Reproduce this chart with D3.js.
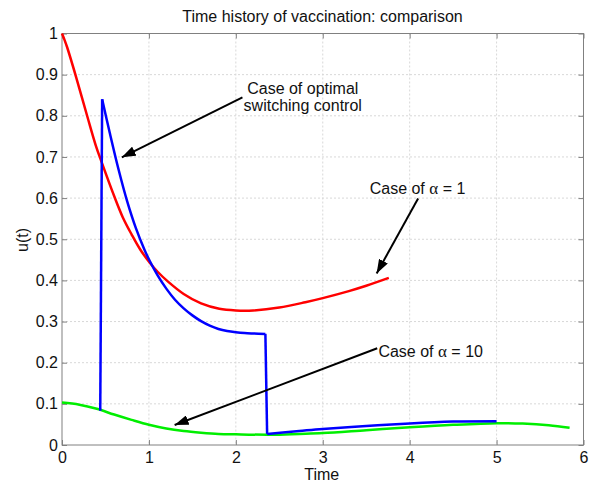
<!DOCTYPE html>
<html>
<head>
<meta charset="utf-8">
<script src="https://cdn.jsdelivr.net/npm/d3@7"></script>
<style>
  html, body { margin: 0; padding: 0; background: #fff; }
  svg { display: block; }
  text { font-family: "Liberation Sans", Arial, sans-serif; font-size: 16px; fill: #111; }
</style>
</head>
<body>
<svg id="chart" width="594" height="482"></svg>
<script>
// Vaccination time histories u(t)
const redTime  = [0, 0.03, 0.06, 0.164, 0.293, 0.39, 0.455, 0.6, 0.7, 0.8, 0.9, 1.01, 1.1, 1.22, 1.4, 1.6, 1.81, 2.0, 2.2, 2.5, 2.8, 3.0, 3.3, 3.5, 3.76];
const redValue = [1.0, 0.984, 0.966, 0.893, 0.797, 0.727, 0.688, 0.605, 0.553, 0.512, 0.475, 0.443, 0.421, 0.397, 0.367, 0.344, 0.331, 0.327, 0.327, 0.334, 0.347, 0.357, 0.374, 0.387, 0.406];

// optimal switching control: jump up, decay, drop, tail
const blueUpTime    = [0.44, 0.462];
const blueUpValue   = [0.083, 0.84];
const blueDecayTime  = [0.462, 0.55, 0.65, 0.75, 0.85, 0.95, 1.01, 1.1, 1.2, 1.3, 1.4, 1.5, 1.6, 1.7, 1.8, 1.9, 2.0, 2.1, 2.2, 2.34];
const blueDecayValue = [0.84, 0.758, 0.67, 0.592, 0.527, 0.474, 0.447, 0.412, 0.38, 0.353, 0.332, 0.315, 0.301, 0.29, 0.282, 0.277, 0.274, 0.272, 0.271, 0.27];
const blueDropTime   = [2.34, 2.36];
const blueDropValue  = [0.27, 0.027];
const blueTailTime   = [2.36, 2.73, 3.0, 3.5, 4.0, 4.5, 5.0];
const blueTailValue  = [0.027, 0.034, 0.039, 0.046, 0.0525, 0.0570, 0.058];

const greenTime  = [0, 0.2, 0.4, 0.6, 0.8, 1.0, 1.2, 1.4, 1.6, 1.8, 2.0, 2.4, 2.73, 3.0, 3.5, 4.0, 4.5, 5.0, 5.3, 5.6, 5.84];
const greenValue = [0.103, 0.098, 0.088, 0.074, 0.061, 0.049, 0.04, 0.034, 0.03, 0.027, 0.026, 0.025, 0.027, 0.029, 0.036, 0.043, 0.049, 0.053, 0.052, 0.048, 0.042];

const xTicks = [0, 1, 2, 3, 4, 5, 6];
const yTicks = [0, 0.1, 0.2, 0.3, 0.4, 0.5, 0.6, 0.7, 0.8, 0.9, 1];

// annotation texts with arrow start/end in data units
const notes = [
  { lines: ["Case of optimal", "switching control"], x: 2.77, y: 0.854, anchor: "middle",
    from: [2.076, 0.845], to: [0.688, 0.699] },
  { lines: ["Case of \u03b1 = 1"], x: 3.54, y: 0.61, anchor: "start",
    from: [4.097, 0.599], to: [3.62, 0.417] },
  { lines: ["Case of \u03b1 = 10"], x: 3.64, y: 0.214, anchor: "start",
    from: [3.627, 0.235], to: [1.296, 0.0486] }
];

const svg = d3.select("#chart");
const plotLeft = 62, plotRight = 583.5, plotTop = 33.5, plotBottom = 445;

const x = d3.scaleLinear().domain([0, 6]).range([plotLeft, plotRight]);
const y = d3.scaleLinear().domain([0, 1]).range([plotBottom, plotTop]);

// dotted grid
const grid = svg.append("g");
grid.selectAll("line.gx").data(xTicks.slice(1, -1)).join("line").attr("class", "gx")
  .attr("x1", d => x(d)).attr("x2", d => x(d)).attr("y1", plotTop).attr("y2", plotBottom);
grid.selectAll("line.gy").data(yTicks.slice(1, -1)).join("line").attr("class", "gy")
  .attr("x1", plotLeft).attr("x2", plotRight).attr("y1", d => y(d)).attr("y2", d => y(d));
grid.selectAll("line").attr("stroke", "#d8d8d8").attr("stroke-width", 1).attr("stroke-dasharray", "2,2");

// axes with inward ticks on all four sides
function styleAxis(g) {
  g.select(".domain").remove();
  g.selectAll(".tick line").attr("stroke", "#808080");
  g.selectAll(".tick text").style("font-family", "Liberation Sans, Arial, sans-serif").style("font-size", "16px").attr("fill", "#111");
}
svg.append("g").attr("transform", `translate(0,${plotBottom})`)
  .call(d3.axisBottom(x).tickValues(xTicks).tickFormat(d3.format("d")).tickSizeInner(-5).tickSizeOuter(0).tickPadding(7))
  .call(styleAxis);
svg.append("g").attr("transform", `translate(0,${plotTop})`)
  .call(d3.axisTop(x).tickValues(xTicks).tickFormat("").tickSizeInner(-5).tickSizeOuter(0))
  .call(styleAxis);
svg.append("g").attr("transform", `translate(${plotLeft},0)`)
  .call(d3.axisLeft(y).tickValues(yTicks).tickFormat(d => d === 0 || d === 1 ? d3.format("d")(d) : d3.format(".1f")(d)).tickSizeInner(-5).tickSizeOuter(0).tickPadding(4))
  .call(styleAxis);
svg.append("g").attr("transform", `translate(${plotRight},0)`)
  .call(d3.axisRight(y).tickValues(yTicks).tickFormat("").tickSizeInner(-5).tickSizeOuter(0))
  .call(styleAxis);

svg.append("rect").attr("x", plotLeft).attr("y", plotTop).attr("width", plotRight - plotLeft).attr("height", plotBottom - plotTop)
  .attr("fill", "none").attr("stroke", "#808080").attr("stroke-width", 1);

// curves
const zip = (t, v) => t.map((d, i) => [d, v[i]]);
const smooth = d3.line().x(d => x(d[0])).y(d => y(d[1])).curve(d3.curveCatmullRom.alpha(0.5));
const straight = d3.line().x(d => x(d[0])).y(d => y(d[1]));

const plot = svg.append("g").attr("fill", "none").attr("stroke-width", 2.5).attr("stroke-linejoin", "round");
plot.append("path").attr("d", smooth(zip(greenTime, greenValue))).attr("stroke", "#00ee00");
plot.append("path").attr("d", smooth(zip(redTime, redValue))).attr("stroke", "#ff0000");
plot.append("path").attr("d", straight(zip(blueUpTime, blueUpValue))).attr("stroke", "#0000ff");
plot.append("path").attr("d", smooth(zip(blueDecayTime, blueDecayValue))).attr("stroke", "#0000ff");
plot.append("path").attr("d", straight(zip(blueDropTime, blueDropValue))).attr("stroke", "#0000ff");
plot.append("path").attr("d", smooth(zip(blueTailTime, blueTailValue))).attr("stroke", "#0000ff");

// arrows
svg.append("defs").append("marker")
  .attr("id", "head").attr("markerUnits", "userSpaceOnUse")
  .attr("viewBox", "0 0 14 10").attr("refX", 14).attr("refY", 5)
  .attr("markerWidth", 14).attr("markerHeight", 10).attr("orient", "auto")
  .append("path").attr("d", "M0,0 L14,5 L0,10 Z").attr("fill", "#000");

notes.forEach(n => {
  svg.append("line")
    .attr("x1", x(n.from[0])).attr("y1", y(n.from[1]))
    .attr("x2", x(n.to[0])).attr("y2", y(n.to[1]))
    .attr("stroke", "#000").attr("stroke-width", 2)
    .attr("marker-end", "url(#head)");
  const t = svg.append("text").attr("text-anchor", n.anchor);
  n.lines.forEach((line, i) => {
    const ts = t.append("tspan").attr("x", x(n.x)).attr("y", y(n.y) + i * 17.5);
    const parts = line.split("\u03b1");
    ts.append("tspan").text(parts[0]);
    if (parts.length > 1) {
      ts.append("tspan").text("\u03b1").style("font-family", "Liberation Serif, Times New Roman, serif").style("font-size", "17px");
      ts.append("tspan").text(parts[1]);
    }
  });
});

// titles
svg.append("text").attr("x", 322.5).attr("y", 22).attr("text-anchor", "middle")
  .text("Time history of vaccination: comparison");
svg.append("text").attr("x", (plotLeft + plotRight) / 2 - 1).attr("y", 480).attr("text-anchor", "middle").text("Time");
svg.append("text").attr("transform", "translate(28,240) rotate(-90)").attr("text-anchor", "middle").text("u(t)");
</script>
</body>
</html>
